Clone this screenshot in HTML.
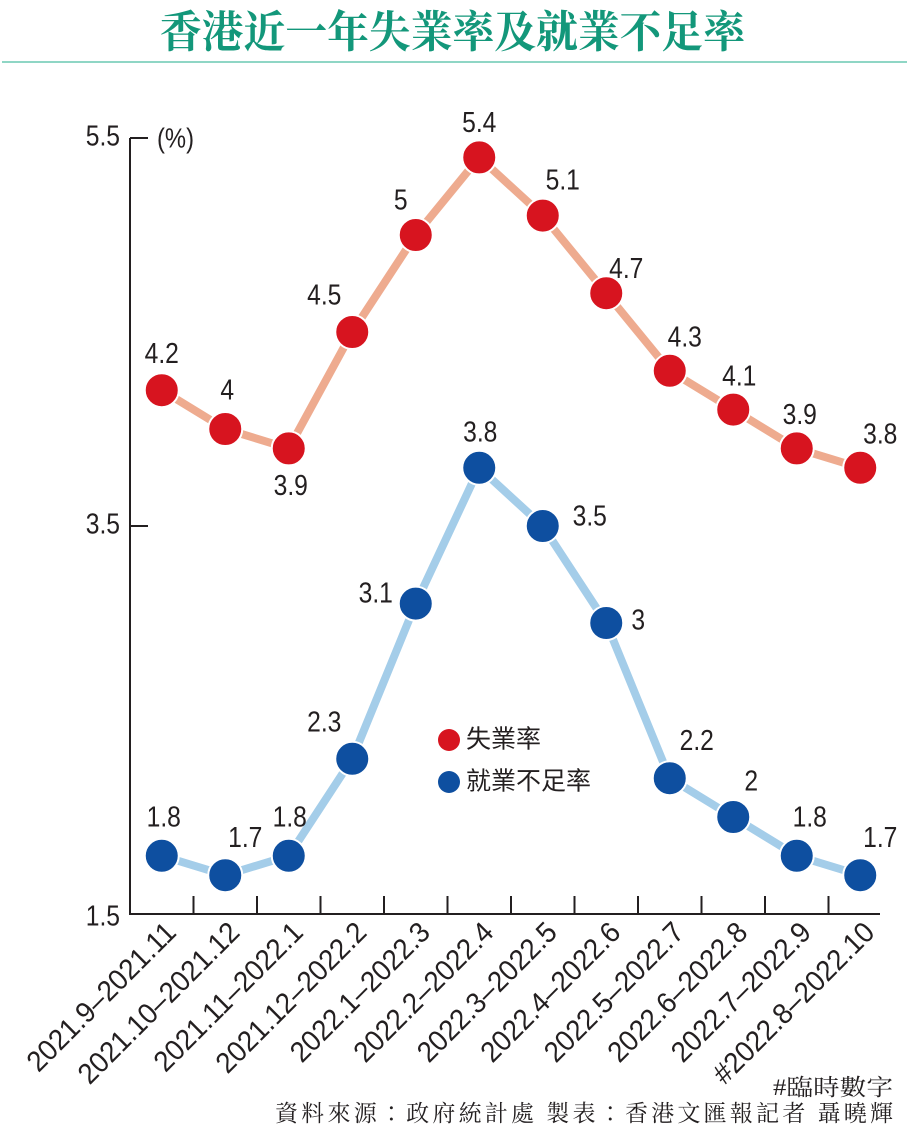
<!DOCTYPE html>
<html><head><meta charset="utf-8"><style>
html,body{margin:0;padding:0;background:#fff;}
svg{display:block;}
</style></head><body>
<svg width="907" height="1137" viewBox="0 0 907 1137" xmlns="http://www.w3.org/2000/svg">
<text x="160" y="47" textLength="585" lengthAdjust="spacingAndGlyphs" font-family="'Liberation Serif','Noto Serif CJK SC',serif" font-weight="bold" font-size="44" fill="#13977a">香港近一年失業率及就業不足率</text>
<line x1="2" y1="62" x2="907" y2="62" stroke="#8fd6c5" stroke-width="2"/>
<g id="axes"></g>
<g id="lines"></g>
<g id="pts"></g>
<g id="labels"></g>
<g>
<circle cx="449" cy="740" r="11" fill="#d7141f"/>
<text x="466" y="741" dominant-baseline="middle" font-family="'Liberation Sans','Noto Sans CJK TC',sans-serif" font-size="25" fill="#231f20">失業率</text>
<circle cx="449" cy="782" r="11" fill="#0e4fa0"/>
<text x="466" y="783" dominant-baseline="middle" font-family="'Liberation Sans','Noto Sans CJK TC',sans-serif" font-size="25" fill="#231f20">就業不足率</text>
</g>
<text x="773" y="1095" textLength="120" lengthAdjust="spacingAndGlyphs" font-family="'Liberation Serif','Noto Serif CJK TC',serif" font-size="23" fill="#231f20">#臨時數字</text>
<text x="275" y="1121" textLength="618" lengthAdjust="spacing" font-family="'Liberation Serif','Noto Serif CJK TC',serif" font-size="23" fill="#231f20">資料來源：政府統計處 製表：香港文匯報記者 聶曉輝</text>
</svg>
<script>
const categories=["2021.9–2021.11","2021.10–2021.12","2021.11–2022.1","2021.12–2022.2","2022.1–2022.3","2022.2–2022.4","2022.3–2022.5","2022.4–2022.6","2022.5–2022.7","2022.6–2022.8","2022.7–2022.9","#2022.8–2022.10"];
const unemployment=[4.2,4,3.9,4.5,5,5.4,5.1,4.7,4.3,4.1,3.9,3.8];
const underemployment=[1.8,1.7,1.8,2.3,3.1,3.8,3.5,3,2.2,2,1.8,1.7];
const unemploymentLabels=["4.2","4","3.9","4.5","5","5.4","5.1","4.7","4.3","4.1","3.9","3.8"];
const underemploymentLabels=["1.8","1.7","1.8","2.3","3.1","3.8","3.5","3","2.2","2","1.8","1.7"];
const yTicks=[1.5,3.5,5.5];

const NS="http://www.w3.org/2000/svg";
const X0=130,BW=63.5,Y0=914,YMIN=1.5,YMAX=5.5,YTOP=138;
const x=i=>X0+BW*(i+0.5);
const y=v=>Y0-(v-YMIN)/(YMAX-YMIN)*(Y0-YTOP);
function mk(tag,attrs,parent,txt){const e=document.createElementNS(NS,tag);for(const k in attrs)e.setAttribute(k,attrs[k]);if(txt!==undefined)e.textContent=txt;parent.appendChild(e);return e;}
const axes=document.getElementById('axes');
const font="'Liberation Sans','Noto Sans CJK TC',sans-serif";
let e=mk('line',{x1:X0,y1:Y0,x2:X0,y2:YTOP,stroke:'#231f20','stroke-width':2},axes);


e=mk('line',{x1:X0-1,y1:Y0,x2:X0+BW*12-12,y2:Y0,stroke:'#231f20','stroke-width':2},axes);


yTicks.forEach(t=>{
  if(t>YMIN){const l=mk('line',{x1:X0,y1:y(t),x2:X0+18,y2:y(t),stroke:'#231f20','stroke-width':2},axes);
  
  }
  const tx=mk('text',{x:0,y:0,'text-anchor':'end','dominant-baseline':'middle','font-family':font,'font-size':29,fill:'#231f20',transform:`translate(${X0-10},${y(t)+(t===YMIN?4:0)}) scale(0.85,1)`},axes,String(t));
  
  
});
e=mk('text',{x:0,y:0,'dominant-baseline':'middle','font-family':font,'font-size':28,fill:'#231f20',transform:'translate(157,140) scale(0.85,1)'},axes,'(%)');


for(let i=1;i<12;i++){const l=mk('line',{x1:X0+BW*i,y1:Y0,x2:X0+BW*i,y2:Y0-18,stroke:'#231f20','stroke-width':2},axes);

}
categories.forEach((c,i)=>{
  const t=mk('text',{x:0,y:0,'text-anchor':'end','font-family':font,'font-size':29,fill:'#231f20',transform:`translate(${x(i)+16},${Y0+20}) rotate(-45) scale(0.95,1)`},axes,c);
  
  
});
const lines=document.getElementById('lines'),pts=document.getElementById('pts'),labs=document.getElementById('labels');
function series(vals,labels,lineCol,dotCol,offs,name){
  const p=mk('polyline',{points:vals.map((v,i)=>x(i)+','+y(v)).join(' '),fill:'none',stroke:lineCol,'stroke-width':8,'stroke-linejoin':'round'},lines);
  
  
  vals.forEach((v,i)=>{
    const c=mk('circle',{cx:x(i),cy:y(v),r:17,fill:dotCol,stroke:'#fff','stroke-width':2},pts);
    
    
    const t=mk('text',{x:0,y:0,'text-anchor':'middle','dominant-baseline':'middle','font-family':font,'font-size':29,fill:'#231f20',transform:`translate(${x(i)+offs[i][0]},${y(v)+offs[i][1]}) scale(0.85,1)`},labs,labels[i]);
    
    
  });
}
series(unemployment,unemploymentLabels,'#eeab8f','#d7141f',
 [[0,-35],[2,-37],[2,39],[-28,-35],[-15,-33],[0,-33],[20,-34],[20,-23],[15,-32],[6,-32],[3,-32],[20,-32]],'unemployment');
series(underemployment,underemploymentLabels,'#a4cde9','#0e4fa0',
 [[2,-37],[20,-36],[1,-37],[-28,-35],[-40,-9],[1,-34],[47,-8],[32,-1],[27,-36],[18,-34],[13,-37],[20,-36]],'underemployment');
</script>
</body></html>
